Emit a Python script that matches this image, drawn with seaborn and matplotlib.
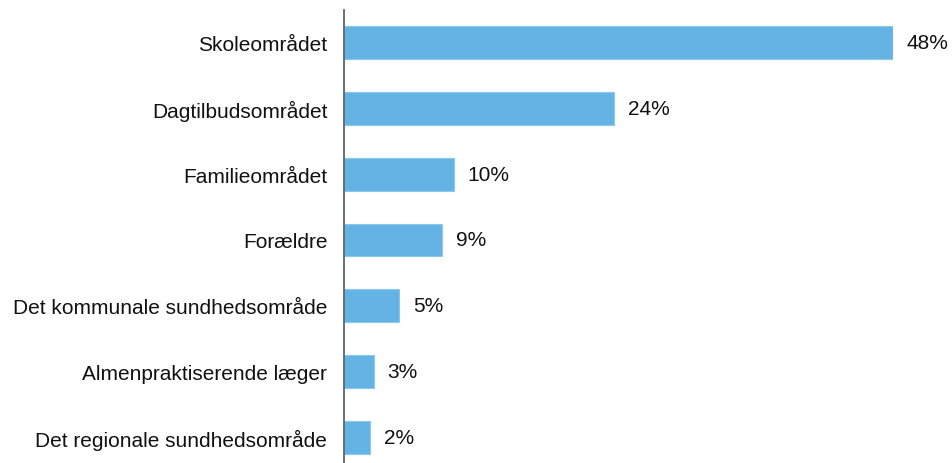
import matplotlib
matplotlib.use("Agg")
import matplotlib.pyplot as plt
import seaborn as sns
import pandas as pd

categories = ["Skoleområdet", "Dagtilbudsområdet", "Familieområdet", "Forældre",
              "Det kommunale sundhedsområde", "Almenpraktiserende læger",
              "Det regionale sundhedsområde"]
values = [48.0, 23.6, 9.6, 8.6, 4.8, 2.6, 2.3]

sns.set_theme(style="white")
plt.rcParams['font.family'] = ['Liberation Sans', 'DejaVu Sans']

df = pd.DataFrame({"cat": categories, "val": values})

fig = plt.figure(figsize=(9.52, 4.64), dpi=100)
ax = fig.add_axes([344/952, -7/464, (893-344)/952, (471-11)/464])
sns.barplot(data=df, x="val", y="cat", orient="h", color="#63B4E5",
            saturation=1, width=0.5, ax=ax, edgecolor="#8CC8EE", linewidth=0.8)
ax.set_xlim(0, 48.0)
ax.set_ylim(6.5, -0.5)
for sp in ["top", "right", "bottom"]:
    ax.spines[sp].set_visible(False)
ax.spines["left"].set_color("#5B6470")
ax.spines["left"].set_linewidth(1.3)
ax.set_xticks([])
ax.set_xlabel("")
ax.set_ylabel("")
ax.tick_params(axis="y", length=0, pad=12, labelsize=15, labelcolor="#111111")
for i, v in enumerate(values):
    ax.annotate(f"{v:.0f}%", xy=(v, i), xytext=(10, 0), textcoords="offset points",
                va="center", ha="left", fontsize=15, color="#111111",
                annotation_clip=False)
fig.savefig("out.png", dpi=100)
